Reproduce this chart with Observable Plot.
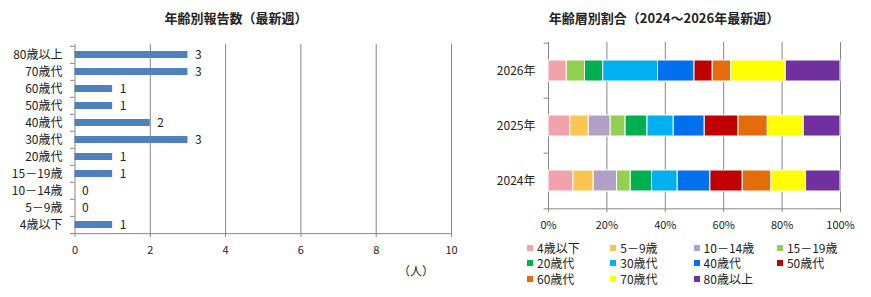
<!DOCTYPE html>
<html><head><meta charset="utf-8">
<script src="https://cdn.jsdelivr.net/npm/d3@7"></script>
<script src="https://cdn.jsdelivr.net/npm/@observablehq/plot@0.6"></script>
<style>
body{margin:0;background:#fff;}
#root{position:relative;width:871px;height:297px;overflow:hidden;font-family:"Noto Sans CJK JP","Noto Sans",sans-serif;color:#222;}
.abs{position:absolute;white-space:nowrap;}
.title{font-size:13px;font-weight:bold;line-height:20px;transform:translateX(-50%);}
.unit{font-size:12px;line-height:16px;transform:translateX(-50%);}
.leg{font-size:12px;line-height:14px;display:flex;align-items:center;}
.sw{display:inline-block;width:6px;height:6px;margin-right:4px;}
svg{position:absolute;}
</style>
</head><body>
<div id="root"></div>
<script>
// ---- data ----
const ages = ["4歳以下","5－9歳","10－14歳","15－19歳","20歳代","30歳代","40歳代","50歳代","60歳代","70歳代","80歳以上"];
const latestCounts = [1,0,0,1,1,3,2,1,1,3,3];
const countTicks = [0,2,4,6,8,10];
const years = ["2024年","2025年","2026年"];
const share2024 = [8.5,7.0,8.0,4.7,7.3,8.8,11.2,11.1,9.8,11.9,11.8];
const share2025 = [7.5,6.3,7.5,5.1,7.5,9.0,10.6,11.6,10.0,12.3,12.6];
const share2026 = [6.25,0,0,6.25,6.25,18.75,12.5,6.25,6.25,18.75,18.75];
const shareTicks = [0,0.2,0.4,0.6,0.8,1];
const ageColors = ["#F2A2AB","#F9C652","#B2A1C7","#92D050","#00B050","#00B0F0","#0070EE","#C00000","#E46C0A","#FFFF00","#7030A0"];
const titleLeft = "年齢別報告数（最新週）";
const titleRight = "年齢層別割合（2024～2026年最新週）";
const unitLabel = "（人）";

const root = document.getElementById("root");
const font = '"Noto Sans CJK JP","Noto Sans",sans-serif';
const grid = "#868686";

// ---- left chart ----
const leftData = ages.map((a,i)=>({age:a, count:latestCounts[i]}));
const lH = 297, lTop = 44, lBottom = 63;
const lStep = (lH - lTop - lBottom) / ages.length;
const left = Plot.plot({
  width: 460, height: lH,
  marginLeft: 74.5, marginRight: 9, marginTop: lTop, marginBottom: lBottom,
  style: {fontFamily: font, fontSize: "11px", color: "#222", background: "transparent", overflow: "visible"},
  x: {domain: [0,10], ticks: countTicks, tickSize: 0, tickPadding: 12, label: null},
  y: {domain: ages.slice().reverse(), paddingInner: 0.6, paddingOuter: 0.3, tickSize: 0, tickPadding: 12.5, label: null},
  marks: [
    Plot.ruleX(countTicks, {stroke: grid, strokeWidth: 1, insetBottom: -3}),
    Plot.ruleY(ages, {y: d=>d, x1: 0, x2: 0, insetLeft: -4.5, dy: -lStep/2, stroke: grid}),
    Plot.ruleY([ages[0]], {y: d=>d, insetLeft: -4.5, dy: lStep/2, stroke: grid}),
    Plot.barX(leftData, {x: "count", y: "age", fill: "#4F81BD"}),
    Plot.text(leftData, {x: "count", y: "age", text: d=>String(d.count), dx: 7, textAnchor: "start", fontSize: 12, fill: "#222"})
  ]
});
left.style.left = "0px"; left.style.top = "0px";
left.querySelectorAll("g[aria-label='y-axis tick label'] text, g[aria-label='y-axis'] text").forEach(t=>t.setAttribute("font-size","12"));
root.appendChild(left);

// ---- right chart ----
const shares = [share2024, share2025, share2026];
const rightData = [];
years.forEach((y,yi)=>ages.forEach((a,i)=>rightData.push({year:y, age:a, value:shares[yi][i]})));
const rH = 235, rTop = 42, rBottom = 26;
const rStep = (rH - rTop - rBottom) / years.length;
const right = Plot.plot({
  width: 391, height: rH,
  marginLeft: 68, marginRight: 31, marginTop: rTop, marginBottom: rBottom,
  style: {fontFamily: font, fontSize: "11px", color: "#222", background: "transparent", overflow: "visible"},
  x: {domain: [0,1], ticks: shareTicks, tickFormat: ".0%", tickSize: 0, tickPadding: 12, label: null},
  y: {domain: years.slice().reverse(), paddingInner: 0.62, paddingOuter: 0.31, tickSize: 0, tickPadding: 13, label: null},
  color: {domain: ages, range: ageColors},
  marks: [
    Plot.ruleX(shareTicks, {stroke: grid, strokeWidth: 1, insetBottom: -3}),
    Plot.ruleY(years, {y: d=>d, x1: 0, x2: 0, insetLeft: -4.5, dy: -rStep/2, stroke: grid}),
    Plot.ruleY([years[0]], {y: d=>d, insetLeft: -4.5, dy: rStep/2, stroke: grid}),
    Plot.barX(rightData, Plot.stackX({x: "value", y: "year", fill: "age", offset: "normalize", stroke: "white", strokeWidth: 1}))
  ]
});
right.style.left = "480px"; right.style.top = "0px";
right.querySelectorAll("g[aria-label='y-axis tick label'] text, g[aria-label='y-axis'] text").forEach(t=>t.setAttribute("font-size","12"));
root.appendChild(right);

// ---- titles, unit, legend ----
function addDiv(cls, text, x, y){
  const d = document.createElement("div");
  d.className = "abs " + cls; d.textContent = text;
  d.style.left = x + "px"; d.style.top = y + "px";
  root.appendChild(d); return d;
}
addDiv("title", titleLeft, 236, 8);
addDiv("title", titleRight, 664, 8);
addDiv("unit", unitLabel, 416, 263);
ages.forEach((a,i)=>{
  const col = i % 4, row = Math.floor(i / 4);
  const d = document.createElement("div");
  d.className = "abs leg";
  d.style.left = (527 + col*83.3) + "px";
  d.style.top = (241 + row*15.3) + "px";
  const sw = document.createElement("span");
  sw.className = "sw"; sw.style.background = ageColors[i];
  d.appendChild(sw);
  d.appendChild(document.createTextNode(a));
  root.appendChild(d);
});
</script>
</body></html>
